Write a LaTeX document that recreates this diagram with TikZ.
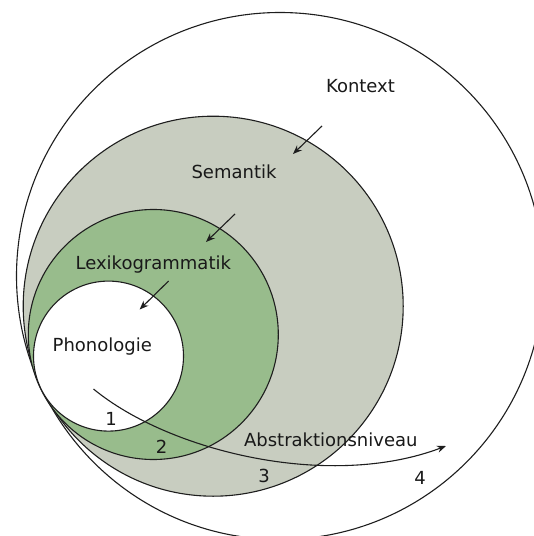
\documentclass[tikz,border=0pt]{standalone}
\usepackage{fontspec}
\setmainfont{DejaVu Sans}
\usetikzlibrary{arrows.meta}
\definecolor{semgray}{RGB}{200,205,192}
\definecolor{lexgreen}{RGB}{152,188,140}
\definecolor{linecol}{RGB}{30,30,30}
\begin{document}
\begin{tikzpicture}[x=1bp,y=-1bp,
  ring/.style={draw=linecol,line width=1.1bp},
  lbl/.style={anchor=base,inner sep=0pt,font=\fontsize{18bp}{21bp}\selectfont,text=black!90},
  pointer/.style={draw=linecol,line width=1.1bp,-{Stealth[length=9bp,width=7bp]}}]
\useasboundingbox (0,0) rectangle (534,536);
\begin{scope}
\clip (0,0) rectangle (534,536);
\draw[ring,fill=white] (280,276) circle[radius=263.5];
\end{scope}
\draw[ring,fill=semgray] (213.2,306.2) circle[radius=190];
\draw[ring,fill=lexgreen] (153.3,334.5) circle[radius=125];
\draw[ring,fill=white] (108.5,356.1) circle[radius=75];
% abstraction arrow
\coordinate (a0) at (93.5,389);
\coordinate (a1) at (446,446);
\draw[pointer] (a0) .. controls (170,452) and (330,490) .. (a1);
% pointer arrows
\coordinate (k0) at (322,126);
\coordinate (k1) at (293,154);
\coordinate (s0) at (235,214);
\coordinate (s1) at (206,242);
\coordinate (l0) at (168.6,281);
\coordinate (l1) at (139.6,309.5);
\draw[pointer] (k0) -- (k1);
\draw[pointer] (s0) -- (s1);
\draw[pointer] (l0) -- (l1);
% labels
\node[lbl] (kontext) at (360.5,92.3) {Kontext};
\node[lbl] (semantik) at (234,179) {Semantik};
\node[lbl] (lexiko) at (153.3,269.3) {Lexikogrammatik};
\node[lbl] (phono) at (102.3,351) {Phonologie};
\node[lbl] (abstr) at (330.8,446) {Abstraktionsniveau};
\node[lbl] (n1) at (111,425) {1};
\node[lbl] (n2) at (161.7,453.3) {2};
\node[lbl] (n3) at (264,482.7) {3};
\node[lbl] (n4) at (420,484) {4};
\end{tikzpicture}
\end{document}
